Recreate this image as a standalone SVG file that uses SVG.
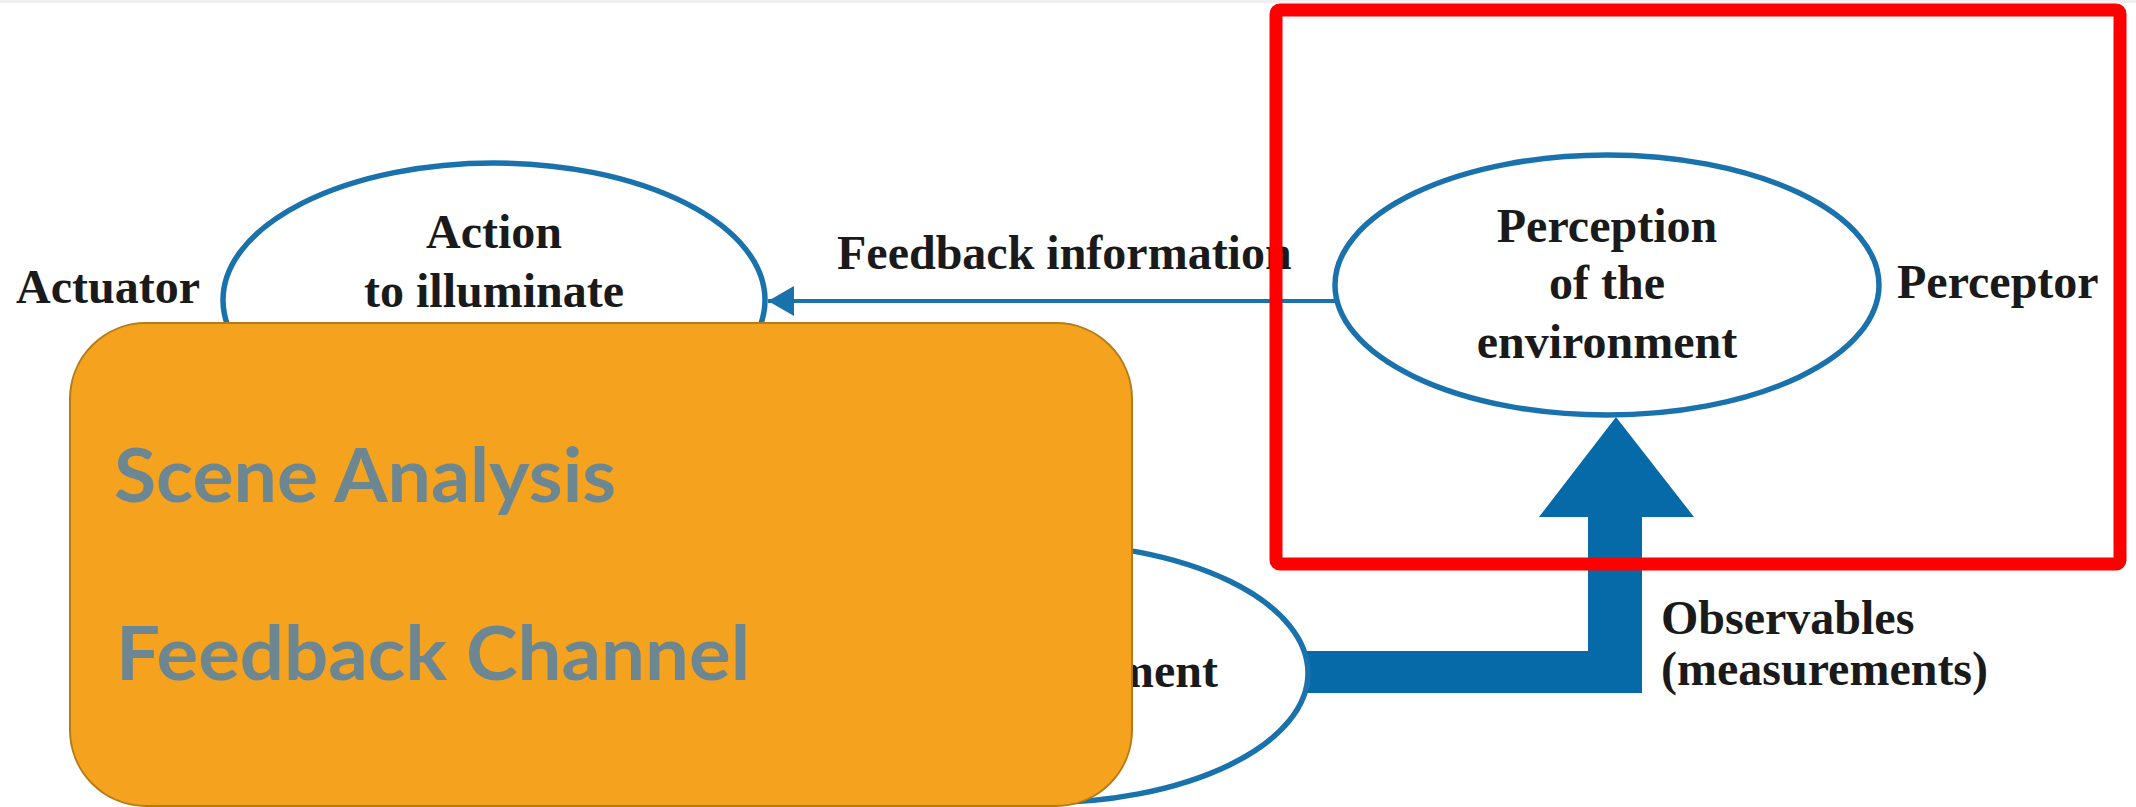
<svg xmlns="http://www.w3.org/2000/svg" width="2136" height="807" viewBox="0 0 2136 807">
  <style>
    .serif { font-family: "Liberation Serif", "Times New Roman", serif; font-weight: bold; font-size: 48px; fill: #1a1a1a; }
    .node { fill: #ffffff; stroke: #1a72ad; stroke-width: 5.5; }
    .sans { font-family: Lato, "Open Sans", sans-serif; font-weight: bold; font-size: 74px; fill: #6c8791; }
  </style>
  <defs>
    <marker id="arrowhead" markerWidth="26" markerHeight="30" refX="26" refY="15" orient="auto" markerUnits="userSpaceOnUse">
      <path d="M0,0 L26,15 L0,30 Z" fill="#1a72ad"/>
    </marker>
  </defs>
  <rect x="0" y="0" width="2136" height="807" fill="#ffffff"/>
  <rect x="0" y="0" width="2136" height="3" fill="#f0f0f0"/>

  <g id="connectors">
    <line x1="1335" y1="301" x2="768" y2="301" stroke="#1a72ad" stroke-width="4" marker-end="url(#arrowhead)"/>
    <path d="M1290,651 L1588,651 L1588,517 L1539,517 L1616,417 L1694,517 L1642,517 L1642,693 L1290,693 Z" fill="#066aa8"/>
  </g>

  <g id="node-action">
    <ellipse class="node" cx="494" cy="300" rx="271" ry="137"/>
    <text class="serif" x="494" y="248" text-anchor="middle">Action</text>
    <text class="serif" x="494" y="307" text-anchor="middle">to illuminate</text>
  </g>
  <g id="label-actuator">
    <text class="serif" x="16" y="303">Actuator</text>
  </g>
  <g id="label-feedback">
    <text class="serif" x="837" y="269">Feedback information</text>
  </g>

  <g id="node-perception">
    <ellipse class="node" cx="1607" cy="285" rx="272" ry="130"/>
    <text class="serif" x="1607" y="242" text-anchor="middle">Perception</text>
    <text class="serif" x="1607" y="299" text-anchor="middle">of the</text>
    <text class="serif" x="1607" y="358" text-anchor="middle">environment</text>
  </g>
  <g id="label-perceptor">
    <text class="serif" x="1897" y="298">Perceptor</text>
  </g>

  <g id="node-environment">
    <ellipse class="node" cx="1040" cy="673" rx="268" ry="130"/>
    <text class="serif" x="1218" y="687" text-anchor="end">ment</text>
  </g>
  <g id="label-observables">
    <text class="serif" x="1661" y="634">Observables</text>
    <text class="serif" x="1661" y="685">(measurements)</text>
  </g>

  <g id="overlay-box">
    <rect x="70" y="323" width="1062" height="483" rx="76" ry="76" fill="#f5a31f" stroke="#b57b19" stroke-width="2"/>
    <text class="sans" x="114" y="502" textLength="502" lengthAdjust="spacingAndGlyphs">Scene Analysis</text>
    <text class="sans" x="116" y="680" textLength="634" lengthAdjust="spacingAndGlyphs">Feedback Channel</text>
  </g>

  <g id="highlight">
    <rect x="1276" y="10" width="844" height="554" rx="4" ry="4" fill="none" stroke="#ff0000" stroke-width="13"/>
  </g>
</svg>
